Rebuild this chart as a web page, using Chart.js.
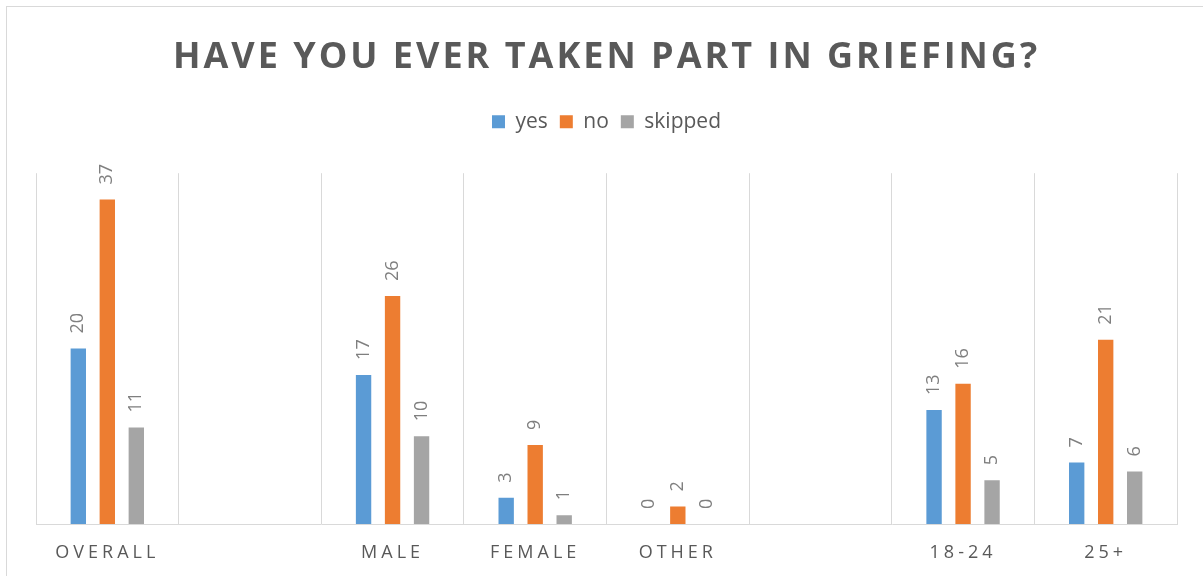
<!DOCTYPE html>
<html>
<head>
<meta charset="utf-8">
<script src="https://cdn.jsdelivr.net/npm/chart.js@4.4.1/dist/chart.umd.min.js"></script>
<style>
  html, body { margin: 0; padding: 0; background: #fff; overflow: hidden; }
  #frame { position: absolute; left: 6px; top: 6px; width: 1400px; height: 800px;
           border-left: 1px solid #d9d9d9; border-top: 1px solid #d9d9d9; }
  #wrap { position: absolute; left: 0; top: 0; width: 1203px; height: 576px; }
</style>
</head>
<body>
<div id="frame"></div>
<div id="wrap"><canvas id="chart"></canvas></div>
<script>
// --- data ---
const categories = ["OVERALL", "", "MALE", "FEMALE", "OTHER", "", "18-24", "25+"];
const yesValues = [20, null, 17, 3, 0, null, 13, 7];
const noValues = [37, null, 26, 9, 2, null, 16, 21];
const skippedValues = [11, null, 10, 1, 0, null, 5, 6];
const seriesNames = ["yes", "no", "skipped"];

const TEXT = "#595959";
const FONT = "'Open Sans', 'DejaVu Sans', sans-serif";

// letter spacing for title + category labels, fixed legend height
const spacingPlugin = {
  id: "spacing",
  beforeLayout(chart) {
    const lg = chart.legend;
    if (lg && !lg._fixed) {
      const origFit = lg.fit;
      lg.fit = function () {
        origFit.call(this);
        this.height = 74;
      };
      lg._fixed = true;
    }
  },
  beforeDraw(chart) {
    const x = chart.scales.x;
    if (x && !x._spaced) {
      const orig = x.drawLabels;
      x.drawLabels = function (area) {
        const c = this.ctx;
        c.save();
        c.letterSpacing = "4px";
        orig.call(this, area);
        c.restore();
      };
      x._spaced = true;
    }
    const t = chart.titleBlock;
    if (t && !t._spaced) {
      const origT = t.draw;
      t.draw = function () {
        const c = this.ctx;
        c.save();
        c.letterSpacing = "3px";
        origT.call(this);
        c.restore();
      };
      t._spaced = true;
    }
  }
};

// rotated value labels above each bar
const valueLabels = {
  id: "valueLabels",
  afterDatasetsDraw(chart) {
    const ctx = chart.ctx;
    ctx.save();
    ctx.fillStyle = "#7f7f7f";
    ctx.font = "18px " + FONT;
    ctx.textAlign = "left";
    ctx.textBaseline = "middle";
    chart.data.datasets.forEach((ds, i) => {
      const meta = chart.getDatasetMeta(i);
      meta.data.forEach((bar, j) => {
        const v = ds.data[j];
        if (v === null || v === undefined) return;
        ctx.save();
        ctx.translate(bar.x, bar.y - 15);
        ctx.rotate(-Math.PI / 2);
        ctx.fillText(String(v), 0, 0);
        ctx.restore();
      });
    });
    ctx.restore();
  }
};

const ctx = document.getElementById("chart").getContext("2d");
new Chart(ctx, {
  type: "bar",
  data: {
    labels: categories,
    datasets: [
      { label: seriesNames[0], data: yesValues, backgroundColor: "#5b9bd5" },
      { label: seriesNames[1], data: noValues, backgroundColor: "#ed7d31" },
      { label: seriesNames[2], data: skippedValues, backgroundColor: "#a5a5a5" }
    ]
  },
  options: {
    responsive: true,
    maintainAspectRatio: false,
    animation: false,
    categoryPercentage: 0.61,
    barPercentage: 0.53,
    layout: { padding: { left: 36, right: 26, top: 0, bottom: 0 } },
    plugins: {
      title: {
        display: true,
        text: "HAVE YOU EVER TAKEN PART IN GRIEFING?",
        color: TEXT,
        font: { family: FONT, size: 36, weight: "bold" },
        padding: { top: 36, bottom: 20 }
      },
      legend: {
        position: "top",
        labels: {
          color: TEXT,
          font: { family: FONT, size: 21 },
          boxWidth: 13,
          boxHeight: 13,
          padding: 12
        }
      },
      tooltip: { enabled: false }
    },
    scales: {
      x: {
        afterFit(scale) { scale.height = 52; },
        grid: { offset: true, color: "#d9d9d9", lineWidth: 1, drawTicks: false },
        border: { color: "#d9d9d9" },
        ticks: {
          color: TEXT,
          font: { family: FONT, size: 18 },
          padding: 18,
          autoSkip: false,
          maxRotation: 0
        }
      },
      y: {
        display: false,
        min: 0,
        max: 40
      }
    }
  },
  plugins: [spacingPlugin, valueLabels]
});
</script>
</body>
</html>
